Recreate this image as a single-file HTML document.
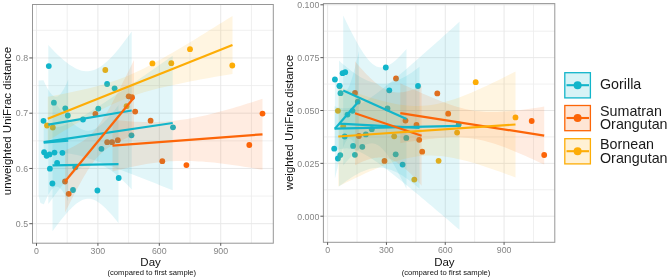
<!DOCTYPE html>
<html><head><meta charset="utf-8"><title>UniFrac distance over time</title>
<style>
html,body{margin:0;padding:0;background:#fff;}
body{width:669px;height:279px;overflow:hidden;}
svg{display:block;font-family:"Liberation Sans",sans-serif;will-change:transform;}
.gmaj{stroke:#e8e8e8;stroke-width:1;}
.gmin{stroke:#ececec;stroke-width:0.8;}
.pb{fill:none;stroke:#969696;stroke-width:1;}
.tick{stroke:#444;stroke-width:0.9;}
.tl{font-size:8.8px;fill:#858585;}
.at{font-size:11.5px;fill:#111;}
.sub{font-size:7.65px;fill:#111;}
.lg{font-size:14.3px;fill:#1a1a1a;}
</style></head>
<body>
<svg width="669" height="279" viewBox="0 0 669 279">
<defs>
<clipPath id="cl"><rect x="32.5" y="4.5" width="240.80" height="238.70"/></clipPath>
<clipPath id="cr"><rect x="323.4" y="3.6" width="231.40" height="238.70"/></clipPath>
</defs>
<rect width="669" height="279" fill="#fff"/>
<g><line x1="32.5" x2="273.3" y1="196.07" y2="196.07" class="gmin"/>
<line x1="32.5" x2="273.3" y1="140.82" y2="140.82" class="gmin"/>
<line x1="32.5" x2="273.3" y1="85.57" y2="85.57" class="gmin"/>
<line x1="32.5" x2="273.3" y1="30.32" y2="30.32" class="gmin"/>
<line y1="4.5" y2="243.2" x1="67.20" x2="67.20" class="gmin"/>
<line y1="4.5" y2="243.2" x1="128.62" x2="128.62" class="gmin"/>
<line y1="4.5" y2="243.2" x1="190.03" x2="190.03" class="gmin"/>
<line y1="4.5" y2="243.2" x1="251.44" x2="251.44" class="gmin"/>
<line x1="32.5" x2="273.3" y1="223.70" y2="223.70" class="gmaj"/>
<line x1="32.5" x2="273.3" y1="168.45" y2="168.45" class="gmaj"/>
<line x1="32.5" x2="273.3" y1="113.20" y2="113.20" class="gmaj"/>
<line x1="32.5" x2="273.3" y1="57.95" y2="57.95" class="gmaj"/>
<line y1="4.5" y2="243.2" x1="36.50" x2="36.50" class="gmaj"/>
<line y1="4.5" y2="243.2" x1="97.91" x2="97.91" class="gmaj"/>
<line y1="4.5" y2="243.2" x1="159.32" x2="159.32" class="gmaj"/>
<line y1="4.5" y2="243.2" x1="220.73" x2="220.73" class="gmaj"/></g>
<g><line x1="323.4" x2="554.8" y1="189.77" y2="189.77" class="gmin"/>
<line x1="323.4" x2="554.8" y1="136.93" y2="136.93" class="gmin"/>
<line x1="323.4" x2="554.8" y1="84.07" y2="84.07" class="gmin"/>
<line x1="323.4" x2="554.8" y1="31.22" y2="31.22" class="gmin"/>
<line y1="3.6" y2="242.3" x1="357.02" x2="357.02" class="gmin"/>
<line y1="3.6" y2="242.3" x1="415.85" x2="415.85" class="gmin"/>
<line y1="3.6" y2="242.3" x1="474.68" x2="474.68" class="gmin"/>
<line y1="3.6" y2="242.3" x1="533.50" x2="533.50" class="gmin"/>
<line x1="323.4" x2="554.8" y1="216.20" y2="216.20" class="gmaj"/>
<line x1="323.4" x2="554.8" y1="163.35" y2="163.35" class="gmaj"/>
<line x1="323.4" x2="554.8" y1="110.50" y2="110.50" class="gmaj"/>
<line x1="323.4" x2="554.8" y1="57.65" y2="57.65" class="gmaj"/>
<line x1="323.4" x2="554.8" y1="4.80" y2="4.80" class="gmaj"/>
<line y1="3.6" y2="242.3" x1="327.60" x2="327.60" class="gmaj"/>
<line y1="3.6" y2="242.3" x1="386.43" x2="386.43" class="gmaj"/>
<line y1="3.6" y2="242.3" x1="445.26" x2="445.26" class="gmaj"/>
<line y1="3.6" y2="242.3" x1="504.09" x2="504.09" class="gmaj"/></g>
<g clip-path="url(#cl)"><circle cx="48.8" cy="66.1" r="2.9" fill="#12b5ca"/>
<circle cx="107.1" cy="84.0" r="2.9" fill="#12b5ca"/>
<circle cx="114.6" cy="88.3" r="2.9" fill="#12b5ca"/>
<circle cx="53.9" cy="102.7" r="2.9" fill="#12b5ca"/>
<circle cx="65.3" cy="108.3" r="2.9" fill="#12b5ca"/>
<circle cx="98.3" cy="108.6" r="2.9" fill="#12b5ca"/>
<circle cx="67.8" cy="115.5" r="2.9" fill="#12b5ca"/>
<circle cx="43.5" cy="120.8" r="2.9" fill="#12b5ca"/>
<circle cx="173" cy="127.3" r="2.9" fill="#12b5ca"/>
<circle cx="131.5" cy="135.3" r="2.9" fill="#12b5ca"/>
<circle cx="44.1" cy="152.2" r="2.9" fill="#12b5ca"/>
<circle cx="46.6" cy="155.8" r="2.9" fill="#12b5ca"/>
<circle cx="49.5" cy="154.4" r="2.9" fill="#12b5ca"/>
<circle cx="54.5" cy="152.6" r="2.9" fill="#12b5ca"/>
<circle cx="62.4" cy="152.8" r="2.9" fill="#12b5ca"/>
<circle cx="57.1" cy="163" r="2.9" fill="#12b5ca"/>
<circle cx="49.9" cy="168.7" r="2.9" fill="#12b5ca"/>
<circle cx="75.3" cy="167.2" r="2.9" fill="#12b5ca"/>
<circle cx="83" cy="119.5" r="2.9" fill="#12b5ca"/>
<circle cx="52.4" cy="183.5" r="2.9" fill="#12b5ca"/>
<circle cx="73" cy="190" r="2.9" fill="#12b5ca"/>
<circle cx="97.4" cy="190.5" r="2.9" fill="#12b5ca"/>
<circle cx="118.7" cy="178" r="2.9" fill="#12b5ca"/>
<circle cx="101.4" cy="148.8" r="2.9" fill="#12b5ca"/>
<circle cx="262.5" cy="113.6" r="2.9" fill="#fc6508"/>
<circle cx="249.3" cy="145" r="2.9" fill="#fc6508"/>
<circle cx="135.2" cy="111.6" r="2.9" fill="#fc6508"/>
<circle cx="150.6" cy="120.7" r="2.9" fill="#fc6508"/>
<circle cx="162.3" cy="161.2" r="2.9" fill="#fc6508"/>
<circle cx="107.2" cy="142.2" r="2.9" fill="#fc6508"/>
<circle cx="112" cy="142.2" r="2.9" fill="#fc6508"/>
<circle cx="117.8" cy="140.2" r="2.9" fill="#fc6508"/>
<circle cx="128.7" cy="96.3" r="2.9" fill="#fc6508"/>
<circle cx="132" cy="97.2" r="2.9" fill="#fc6508"/>
<circle cx="95.4" cy="114" r="2.9" fill="#fc6508"/>
<circle cx="186.4" cy="165.1" r="2.9" fill="#fc6508"/>
<circle cx="65" cy="181.5" r="2.9" fill="#fc6508"/>
<circle cx="68.7" cy="193.8" r="2.9" fill="#fc6508"/>
<circle cx="105.3" cy="70" r="2.9" fill="#fdad06"/>
<circle cx="152.4" cy="63.4" r="2.9" fill="#fdad06"/>
<circle cx="171.3" cy="63.2" r="2.9" fill="#fdad06"/>
<circle cx="190" cy="49.2" r="2.9" fill="#fdad06"/>
<circle cx="232.3" cy="65.5" r="2.9" fill="#fdad06"/>
<circle cx="47" cy="125.5" r="2.9" fill="#fdad06"/>
<circle cx="52.8" cy="127.5" r="2.9" fill="#fdad06"/>
<circle cx="126.6" cy="106.2" r="2.9" fill="#fdad06"/>
<polygon points="38.6,80.5 43.7,80.2 43.7,204.2 40.5,203 38.6,196" fill="#12b5ca" fill-opacity="0.12"/>
<polygon points="48.30,45.10 50.38,47.33 52.47,49.51 54.55,51.63 56.64,53.69 58.72,55.69 60.81,57.62 62.89,59.46 64.98,61.21 67.06,62.86 69.15,64.40 71.23,65.82 73.32,67.11 75.41,68.24 77.49,69.22 79.57,70.02 81.66,70.64 83.75,71.06 85.83,71.27 87.91,71.27 90.00,71.05 92.08,70.61 94.17,69.95 96.25,69.07 98.34,67.98 100.42,66.70 102.51,65.22 104.59,63.58 106.68,61.76 108.76,59.80 110.85,57.70 112.93,55.48 115.02,53.14 117.10,50.71 119.19,48.17 121.27,45.56 123.36,42.87 125.44,40.11 127.53,37.30 129.61,34.42 131.70,31.50 131.70,189.50 129.61,187.28 127.53,185.11 125.44,183.00 123.36,180.95 121.27,178.96 119.19,177.06 117.10,175.23 115.02,173.50 112.93,171.86 110.85,170.35 108.76,168.95 106.68,167.70 104.59,166.59 102.51,165.65 100.42,164.88 98.34,164.30 96.25,163.92 94.17,163.74 92.08,163.79 90.00,164.05 87.91,164.54 85.83,165.24 83.75,166.16 81.66,167.28 79.57,168.60 77.49,170.11 75.41,171.79 73.32,173.63 71.23,175.62 69.15,177.75 67.06,179.99 64.98,182.35 62.89,184.81 60.81,187.35 58.72,189.98 56.64,192.69 54.55,195.46 52.47,198.28 50.38,201.17 48.30,204.10" fill="#12b5ca" fill-opacity="0.12"/>
<polygon points="43.70,127.80 46.93,128.03 50.15,128.04 53.38,127.82 56.60,127.35 59.83,126.63 63.05,125.67 66.28,124.49 69.50,123.13 72.72,121.62 75.95,119.98 79.18,118.23 82.40,116.40 85.62,114.50 88.85,112.55 92.08,110.55 95.30,108.51 98.53,106.45 101.75,104.35 104.97,102.24 108.20,100.10 111.42,97.95 114.65,95.79 117.88,93.61 121.10,91.43 124.33,89.23 127.55,87.03 130.78,84.82 134.00,82.60 137.23,80.38 140.45,78.16 143.68,75.92 146.90,73.69 150.12,71.45 153.35,69.21 156.57,66.96 159.80,64.71 163.03,62.46 166.25,60.21 169.48,57.96 172.70,55.70 172.70,190.30 169.48,189.00 166.25,187.71 163.03,186.42 159.80,185.13 156.57,183.84 153.35,182.55 150.12,181.27 146.90,179.99 143.68,178.72 140.45,177.44 137.23,176.18 134.00,174.92 130.78,173.66 127.55,172.41 124.33,171.17 121.10,169.93 117.88,168.71 114.65,167.49 111.42,166.29 108.20,165.10 104.97,163.92 101.75,162.77 98.53,161.63 95.30,160.53 92.08,159.45 88.85,158.41 85.62,157.42 82.40,156.48 79.18,155.61 75.95,154.82 72.72,154.14 69.50,153.59 66.28,153.19 63.05,152.97 59.83,152.97 56.60,153.21 53.38,153.70 50.15,154.44 46.93,155.41 43.70,156.60" fill="#12b5ca" fill-opacity="0.12"/>
<polygon points="43.70,80.70 44.31,82.07 44.93,83.40 45.54,84.69 46.15,85.93 46.76,87.12 47.38,88.26 47.99,89.34 48.60,90.37 49.21,91.33 49.83,92.22 50.44,93.04 51.05,93.79 51.66,94.45 52.28,95.04 52.89,95.54 53.50,95.95 54.11,96.26 54.73,96.49 55.34,96.61 55.95,96.64 56.56,96.58 57.18,96.41 57.79,96.15 58.40,95.79 59.01,95.34 59.62,94.80 60.24,94.17 60.85,93.46 61.46,92.66 62.08,91.79 62.69,90.84 63.30,89.82 63.91,88.74 64.53,87.59 65.14,86.39 65.75,85.13 66.36,83.81 66.97,82.45 67.59,81.05 68.20,79.60 68.20,201.60 67.59,200.26 66.97,198.96 66.36,197.70 65.75,196.49 65.14,195.34 64.53,194.24 63.91,193.20 63.30,192.22 62.69,191.30 62.08,190.46 61.46,189.69 60.85,189.00 60.24,188.39 59.62,187.87 59.01,187.43 58.40,187.09 57.79,186.83 57.18,186.68 56.56,186.62 55.95,186.66 55.34,186.79 54.73,187.02 54.11,187.35 53.50,187.77 52.89,188.29 52.28,188.89 51.66,189.58 51.05,190.35 50.44,191.20 49.83,192.13 49.21,193.13 48.60,194.19 47.99,195.32 47.38,196.51 46.76,197.75 46.15,199.05 45.54,200.40 44.93,201.79 44.31,203.22 43.70,204.70" fill="#12b5ca" fill-opacity="0.12"/>
<polygon points="52.50,99.30 54.15,101.50 55.80,103.68 57.45,105.82 59.10,107.92 60.75,109.98 62.40,111.99 64.05,113.95 65.70,115.84 67.35,117.68 69.00,119.43 70.65,121.11 72.30,122.69 73.95,124.16 75.60,125.52 77.25,126.75 78.90,127.84 80.55,128.77 82.20,129.53 83.85,130.11 85.50,130.49 87.15,130.69 88.80,130.68 90.45,130.47 92.10,130.06 93.75,129.46 95.40,128.68 97.05,127.73 98.70,126.61 100.35,125.36 102.00,123.97 103.65,122.46 105.30,120.84 106.95,119.13 108.60,117.33 110.25,115.46 111.90,113.51 113.55,111.51 115.20,109.45 116.85,107.35 118.50,105.20 118.50,223.20 116.85,221.11 115.20,219.06 113.55,217.05 111.90,215.11 110.25,213.22 108.60,211.40 106.95,209.66 105.30,208.00 103.65,206.44 102.00,204.98 100.35,203.65 98.70,202.45 97.05,201.39 95.40,200.49 93.75,199.76 92.10,199.22 90.45,198.87 88.80,198.71 87.15,198.76 85.50,199.01 83.85,199.45 82.20,200.08 80.55,200.90 78.90,201.88 77.25,203.02 75.60,204.31 73.95,205.72 72.30,207.25 70.65,208.89 69.00,210.62 67.35,212.43 65.70,214.32 64.05,216.27 62.40,218.28 60.75,220.35 59.10,222.46 57.45,224.62 55.80,226.81 54.15,229.04 52.50,231.30" fill="#12b5ca" fill-opacity="0.12"/>
<polygon points="65.00,150.50 66.72,149.74 68.45,148.95 70.17,148.14 71.90,147.31 73.62,146.44 75.35,145.54 77.08,144.60 78.80,143.61 80.53,142.56 82.25,141.44 83.97,140.25 85.70,138.97 87.42,137.59 89.15,136.09 90.88,134.46 92.60,132.69 94.33,130.77 96.05,128.69 97.78,126.46 99.50,124.07 101.22,121.54 102.95,118.87 104.67,116.09 106.40,113.20 108.12,110.22 109.85,107.15 111.58,104.02 113.30,100.83 115.03,97.58 116.75,94.30 118.47,90.97 120.20,87.62 121.92,84.23 123.65,80.82 125.38,77.39 127.10,73.94 128.82,70.48 130.55,67.00 132.28,63.50 134.00,60.00 134.00,135.00 132.28,135.70 130.55,136.40 128.82,137.12 127.10,137.86 125.38,138.61 123.65,139.38 121.92,140.17 120.20,140.98 118.47,141.83 116.75,142.70 115.03,143.62 113.30,144.57 111.58,145.58 109.85,146.65 108.12,147.78 106.40,149.00 104.67,150.31 102.95,151.73 101.22,153.26 99.50,154.93 97.78,156.74 96.05,158.71 94.33,160.83 92.60,163.11 90.88,165.54 89.15,168.11 87.42,170.81 85.70,173.63 83.97,176.55 82.25,179.56 80.53,182.64 78.80,185.79 77.08,189.00 75.35,192.26 73.62,195.56 71.90,198.89 70.17,202.26 68.45,205.65 66.72,209.06 65.00,212.50" fill="#fc6508" fill-opacity="0.12"/>
<polygon points="112.50,119.60 116.25,120.04 120.00,120.44 123.75,120.81 127.50,121.14 131.25,121.42 135.00,121.67 138.75,121.86 142.50,122.01 146.25,122.10 150.00,122.13 153.75,122.10 157.50,122.01 161.25,121.86 165.00,121.64 168.75,121.35 172.50,121.00 176.25,120.59 180.00,120.11 183.75,119.57 187.50,118.96 191.25,118.31 195.00,117.59 198.75,116.83 202.50,116.02 206.25,115.16 210.00,114.26 213.75,113.33 217.50,112.36 221.25,111.35 225.00,110.32 228.75,109.26 232.50,108.18 236.25,107.07 240.00,105.94 243.75,104.79 247.50,103.62 251.25,102.44 255.00,101.24 258.75,100.03 262.50,98.80 262.50,169.80 258.75,169.14 255.00,168.49 251.25,167.86 247.50,167.24 243.75,166.64 240.00,166.05 236.25,165.49 232.50,164.94 228.75,164.42 225.00,163.93 221.25,163.46 217.50,163.02 213.75,162.62 210.00,162.25 206.25,161.91 202.50,161.62 198.75,161.38 195.00,161.18 191.25,161.03 187.50,160.94 183.75,160.90 180.00,160.92 176.25,161.01 172.50,161.16 168.75,161.37 165.00,161.65 161.25,162.00 157.50,162.41 153.75,162.88 150.00,163.42 146.25,164.02 142.50,164.67 138.75,165.38 135.00,166.14 131.25,166.95 127.50,167.80 123.75,168.70 120.00,169.63 116.25,170.60 112.50,171.60" fill="#fc6508" fill-opacity="0.12"/>
<polygon points="47.80,96.80 52.42,95.94 57.03,95.06 61.65,94.16 66.27,93.24 70.89,92.29 75.50,91.31 80.12,90.30 84.74,89.24 89.36,88.13 93.97,86.97 98.59,85.73 103.21,84.43 107.83,83.03 112.44,81.54 117.06,79.93 121.68,78.22 126.30,76.38 130.91,74.43 135.53,72.36 140.15,70.18 144.77,67.90 149.38,65.54 154.00,63.09 158.62,60.57 163.24,58.00 167.85,55.37 172.47,52.70 177.09,49.99 181.71,47.25 186.32,44.48 190.94,41.69 195.56,38.88 200.18,36.05 204.79,33.20 209.41,30.34 214.03,27.47 218.65,24.59 223.26,21.70 227.88,18.81 232.50,15.90 232.50,73.90 227.88,74.69 223.26,75.49 218.65,76.29 214.03,77.11 209.41,77.93 204.79,78.77 200.18,79.62 195.56,80.48 190.94,81.37 186.32,82.27 181.71,83.20 177.09,84.15 172.47,85.14 167.85,86.16 163.24,87.23 158.62,88.35 154.00,89.53 149.38,90.77 144.77,92.10 140.15,93.52 135.53,95.03 130.91,96.66 126.30,98.40 121.68,100.26 117.06,102.24 112.44,104.33 107.83,106.54 103.21,108.83 98.59,111.22 93.97,113.68 89.36,116.21 84.74,118.80 80.12,121.44 75.50,124.12 70.89,126.84 66.27,129.58 61.65,132.35 57.03,135.15 52.42,137.97 47.80,140.80" fill="#fdad06" fill-opacity="0.12"/>
<line x1="48.3" y1="124.6" x2="131.7" y2="110.5" stroke="#12b5ca" stroke-width="2.2"/>
<line x1="43.7" y1="142.2" x2="172.7" y2="123.0" stroke="#12b5ca" stroke-width="2.2"/>
<line x1="43.7" y1="142.7" x2="68.2" y2="140.6" stroke="#12b5ca" stroke-width="2.2"/>
<line x1="52.5" y1="165.3" x2="118.5" y2="164.2" stroke="#12b5ca" stroke-width="2.2"/>
<line x1="65.0" y1="181.5" x2="134.0" y2="97.5" stroke="#fc6508" stroke-width="2.2"/>
<line x1="112.5" y1="145.6" x2="262.5" y2="134.3" stroke="#fc6508" stroke-width="2.2"/>
<line x1="47.8" y1="118.8" x2="232.5" y2="44.9" stroke="#fdad06" stroke-width="2.2"/></g>
<g clip-path="url(#cr)"><circle cx="339.6" cy="86" r="2.9" fill="#12b5ca"/>
<circle cx="340.5" cy="93.2" r="2.9" fill="#12b5ca"/>
<circle cx="342.6" cy="73.2" r="2.9" fill="#12b5ca"/>
<circle cx="345.2" cy="72.2" r="2.9" fill="#12b5ca"/>
<circle cx="334.9" cy="79.5" r="2.9" fill="#12b5ca"/>
<circle cx="339.5" cy="85.8" r="2.9" fill="#12b5ca"/>
<circle cx="385.8" cy="67.5" r="2.9" fill="#12b5ca"/>
<circle cx="389.3" cy="90.3" r="2.9" fill="#12b5ca"/>
<circle cx="357.8" cy="101.7" r="2.9" fill="#12b5ca"/>
<circle cx="352.5" cy="110.8" r="2.9" fill="#12b5ca"/>
<circle cx="347.5" cy="114.6" r="2.9" fill="#12b5ca"/>
<circle cx="387.5" cy="108.4" r="2.9" fill="#12b5ca"/>
<circle cx="344.7" cy="136.5" r="2.9" fill="#12b5ca"/>
<circle cx="365.8" cy="134.4" r="2.9" fill="#12b5ca"/>
<circle cx="371.8" cy="129.2" r="2.9" fill="#12b5ca"/>
<circle cx="334.2" cy="148.7" r="2.9" fill="#12b5ca"/>
<circle cx="353.1" cy="145.9" r="2.9" fill="#12b5ca"/>
<circle cx="362.3" cy="146.8" r="2.9" fill="#12b5ca"/>
<circle cx="337.9" cy="158.5" r="2.9" fill="#12b5ca"/>
<circle cx="340.3" cy="155.1" r="2.9" fill="#12b5ca"/>
<circle cx="354.9" cy="154.8" r="2.9" fill="#12b5ca"/>
<circle cx="395.7" cy="154.3" r="2.9" fill="#12b5ca"/>
<circle cx="402.6" cy="164.6" r="2.9" fill="#12b5ca"/>
<circle cx="406.3" cy="137.9" r="2.9" fill="#12b5ca"/>
<circle cx="458.7" cy="124.5" r="2.9" fill="#12b5ca"/>
<circle cx="418" cy="86" r="2.9" fill="#12b5ca"/>
<circle cx="396" cy="78.5" r="2.9" fill="#fc6508"/>
<circle cx="355" cy="93" r="2.9" fill="#fc6508"/>
<circle cx="358.9" cy="136" r="2.9" fill="#fc6508"/>
<circle cx="384.5" cy="160.9" r="2.9" fill="#fc6508"/>
<circle cx="405.5" cy="120.6" r="2.9" fill="#fc6508"/>
<circle cx="416.5" cy="125" r="2.9" fill="#fc6508"/>
<circle cx="419.2" cy="139.8" r="2.9" fill="#fc6508"/>
<circle cx="422.2" cy="151.7" r="2.9" fill="#fc6508"/>
<circle cx="437.3" cy="93.4" r="2.9" fill="#fc6508"/>
<circle cx="448.2" cy="113.7" r="2.9" fill="#fc6508"/>
<circle cx="531.7" cy="121" r="2.9" fill="#fc6508"/>
<circle cx="544.2" cy="155" r="2.9" fill="#fc6508"/>
<circle cx="337.9" cy="110.8" r="2.9" fill="#fdad06"/>
<circle cx="343.2" cy="126.2" r="2.9" fill="#fdad06"/>
<circle cx="394.2" cy="136.3" r="2.9" fill="#fdad06"/>
<circle cx="414.3" cy="179.6" r="2.9" fill="#fdad06"/>
<circle cx="438.6" cy="160.8" r="2.9" fill="#fdad06"/>
<circle cx="457.1" cy="132.6" r="2.9" fill="#fdad06"/>
<circle cx="475.7" cy="82.2" r="2.9" fill="#fdad06"/>
<circle cx="515.5" cy="117.4" r="2.9" fill="#fdad06"/>
<polygon points="343.20,15.40 344.78,18.71 346.37,21.98 347.95,25.20 349.53,28.39 351.11,31.51 352.69,34.59 354.28,37.59 355.86,40.52 357.44,43.37 359.02,46.13 360.61,48.78 362.19,51.31 363.77,53.72 365.36,55.97 366.94,58.07 368.52,59.99 370.10,61.71 371.69,63.23 373.27,64.52 374.85,65.59 376.43,66.41 378.01,67.00 379.60,67.36 381.18,67.48 382.76,67.38 384.34,67.07 385.93,66.58 387.51,65.90 389.09,65.06 390.68,64.08 392.26,62.97 393.84,61.74 395.42,60.41 397.00,58.99 398.59,57.48 400.17,55.90 401.75,54.26 403.33,52.55 404.92,50.80 406.50,49.00 406.50,189.00 404.92,185.77 403.33,182.59 401.75,179.45 400.17,176.38 398.59,173.37 397.00,170.43 395.42,167.58 393.84,164.82 392.26,162.16 390.68,159.62 389.09,157.21 387.51,154.94 385.93,152.83 384.34,150.91 382.76,149.17 381.18,147.64 379.60,146.33 378.01,145.26 376.43,144.42 374.85,143.81 373.27,143.45 371.69,143.31 370.10,143.40 368.52,143.69 366.94,144.18 365.36,144.85 363.77,145.67 362.19,146.65 360.61,147.75 359.02,148.97 357.44,150.30 355.86,151.72 354.28,153.22 352.69,154.79 351.11,156.44 349.53,158.13 347.95,159.89 346.37,161.68 344.78,163.52 343.20,165.40" fill="#12b5ca" fill-opacity="0.12"/>
<polygon points="334.90,78.80 335.50,79.97 336.10,81.11 336.71,82.22 337.31,83.30 337.91,84.34 338.51,85.34 339.12,86.29 339.72,87.18 340.32,88.02 340.92,88.78 341.53,89.46 342.13,90.05 342.73,90.53 343.33,90.90 343.94,91.13 344.54,91.22 345.14,91.16 345.75,90.92 346.35,90.50 346.95,89.90 347.55,89.11 348.15,88.14 348.76,86.99 349.36,85.66 349.96,84.18 350.56,82.56 351.17,80.80 351.77,78.93 352.37,76.95 352.98,74.88 353.58,72.73 354.18,70.50 354.78,68.22 355.38,65.88 355.99,63.49 356.59,61.06 357.19,58.59 357.80,56.09 358.40,53.56 359.00,51.00 359.00,151.00 358.40,149.83 357.80,148.69 357.19,147.58 356.59,146.50 355.99,145.46 355.38,144.46 354.78,143.51 354.18,142.62 353.58,141.78 352.98,141.02 352.37,140.34 351.77,139.75 351.17,139.27 350.56,138.90 349.96,138.67 349.36,138.58 348.76,138.64 348.15,138.88 347.55,139.30 346.95,139.90 346.35,140.69 345.75,141.66 345.14,142.81 344.54,144.14 343.94,145.62 343.33,147.24 342.73,149.00 342.13,150.87 341.53,152.85 340.92,154.92 340.32,157.07 339.72,159.30 339.12,161.58 338.51,163.92 337.91,166.31 337.31,168.74 336.71,171.21 336.10,173.71 335.50,176.24 334.90,178.80" fill="#12b5ca" fill-opacity="0.12"/>
<polygon points="334.50,106.30 337.62,107.32 340.75,108.01 343.88,108.34 347.00,108.28 350.12,107.83 353.25,107.02 356.38,105.87 359.50,104.44 362.62,102.78 365.75,100.91 368.88,98.89 372.00,96.74 375.12,94.48 378.25,92.14 381.38,89.72 384.50,87.25 387.62,84.73 390.75,82.17 393.88,79.57 397.00,76.95 400.12,74.30 403.25,71.63 406.38,68.94 409.50,66.24 412.62,63.52 415.75,60.79 418.88,58.05 422.00,55.30 425.12,52.54 428.25,49.77 431.38,46.99 434.50,44.21 437.62,41.43 440.75,38.64 443.88,35.84 447.00,33.04 450.12,30.23 453.25,27.43 456.38,24.61 459.50,21.80 459.50,229.80 456.38,227.13 453.25,224.45 450.12,221.79 447.00,219.12 443.88,216.46 440.75,213.80 437.62,211.15 434.50,208.51 431.38,205.87 428.25,203.23 425.12,200.60 422.00,197.98 418.88,195.37 415.75,192.77 412.62,190.18 409.50,187.60 406.38,185.04 403.25,182.49 400.12,179.96 397.00,177.45 393.88,174.97 390.75,172.51 387.62,170.09 384.50,167.71 381.38,165.38 378.25,163.10 375.12,160.90 372.00,158.78 368.88,156.77 365.75,154.89 362.62,153.16 359.50,151.64 356.38,150.35 353.25,149.34 350.12,148.67 347.00,148.36 343.88,148.44 340.75,148.91 337.62,149.74 334.50,150.90" fill="#12b5ca" fill-opacity="0.12"/>
<polygon points="339.00,60.60 341.01,62.39 343.02,64.13 345.04,65.83 347.05,67.49 349.06,69.09 351.07,70.64 353.09,72.13 355.10,73.56 357.11,74.92 359.12,76.20 361.14,77.40 363.15,78.51 365.16,79.53 367.18,80.46 369.19,81.28 371.20,81.99 373.21,82.59 375.23,83.07 377.24,83.44 379.25,83.68 381.26,83.79 383.27,83.79 385.29,83.66 387.30,83.41 389.31,83.04 391.32,82.56 393.34,81.97 395.35,81.28 397.36,80.48 399.38,79.59 401.39,78.62 403.40,77.56 405.41,76.43 407.43,75.23 409.44,73.96 411.45,72.63 413.46,71.25 415.48,69.81 417.49,68.33 419.50,66.80 419.50,188.80 417.49,187.06 415.48,185.37 413.46,183.72 411.45,182.13 409.44,180.59 407.43,179.11 405.41,177.70 403.40,176.36 401.39,175.09 399.38,173.91 397.36,172.81 395.35,171.80 393.34,170.90 391.32,170.10 389.31,169.41 387.30,168.83 385.29,168.37 383.27,168.03 381.26,167.82 379.25,167.72 377.24,167.75 375.23,167.91 373.21,168.18 371.20,168.57 369.19,169.07 367.18,169.68 365.16,170.40 363.15,171.21 361.14,172.11 359.12,173.10 357.11,174.17 355.10,175.32 353.09,176.54 351.07,177.82 349.06,179.16 347.05,180.55 345.04,182.00 343.02,183.49 341.01,185.02 339.00,186.60" fill="#12b5ca" fill-opacity="0.12"/>
<polygon points="355.00,61.30 356.67,63.28 358.33,65.24 360.00,67.16 361.66,69.03 363.32,70.87 364.99,72.67 366.66,74.41 368.32,76.10 369.99,77.73 371.65,79.30 373.31,80.81 374.98,82.24 376.64,83.59 378.31,84.87 379.98,86.05 381.64,87.14 383.31,88.14 384.97,89.04 386.63,89.83 388.30,90.52 389.97,91.11 391.63,91.59 393.30,91.96 394.96,92.23 396.62,92.40 398.29,92.47 399.96,92.45 401.62,92.33 403.29,92.14 404.95,91.86 406.62,91.51 408.28,91.09 409.94,90.61 411.61,90.07 413.28,89.47 414.94,88.82 416.61,88.13 418.27,87.39 419.94,86.61 421.60,85.80 421.60,185.80 419.94,183.86 418.27,181.96 416.61,180.10 414.94,178.28 413.28,176.50 411.61,174.78 409.94,173.11 408.28,171.51 406.62,169.96 404.95,168.49 403.29,167.09 401.62,165.77 399.96,164.53 398.29,163.38 396.62,162.33 394.96,161.37 393.30,160.52 391.63,159.76 389.97,159.12 388.30,158.58 386.63,158.14 384.97,157.81 383.31,157.58 381.64,157.46 379.98,157.42 378.31,157.48 376.64,157.63 374.98,157.86 373.31,158.17 371.65,158.55 369.99,158.99 368.32,159.50 366.66,160.07 364.99,160.68 363.32,161.35 361.66,162.07 360.00,162.82 358.33,163.61 356.67,164.44 355.00,165.30" fill="#fc6508" fill-opacity="0.12"/>
<polygon points="400.30,83.20 403.90,84.90 407.50,86.59 411.09,88.26 414.69,89.92 418.29,91.55 421.88,93.17 425.48,94.75 429.08,96.31 432.68,97.83 436.28,99.32 439.87,100.76 443.47,102.14 447.07,103.47 450.67,104.74 454.26,105.92 457.86,107.02 461.46,108.03 465.06,108.93 468.65,109.72 472.25,110.39 475.85,110.94 479.45,111.37 483.04,111.69 486.64,111.90 490.24,112.00 493.84,112.01 497.43,111.93 501.03,111.78 504.63,111.56 508.23,111.29 511.82,110.96 515.42,110.59 519.02,110.19 522.62,109.75 526.21,109.28 529.81,108.78 533.41,108.26 537.01,107.72 540.60,107.17 544.20,106.60 544.20,164.60 540.60,162.91 537.01,161.24 533.41,159.58 529.81,157.94 526.21,156.32 522.62,154.73 519.02,153.17 515.42,151.65 511.82,150.16 508.23,148.71 504.63,147.32 501.03,145.98 497.43,144.71 493.84,143.51 490.24,142.40 486.64,141.38 483.04,140.47 479.45,139.67 475.85,138.98 472.25,138.41 468.65,137.96 465.06,137.63 461.46,137.41 457.86,137.30 454.26,137.28 450.67,137.34 447.07,137.49 443.47,137.70 439.87,137.96 436.28,138.28 432.68,138.65 429.08,139.05 425.48,139.49 421.88,139.95 418.29,140.45 414.69,140.96 411.09,141.50 407.50,142.05 403.90,142.62 400.30,143.20" fill="#fc6508" fill-opacity="0.12"/>
<polygon points="338.30,86.50 342.73,88.14 347.16,89.74 351.59,91.32 356.02,92.86 360.45,94.36 364.88,95.81 369.31,97.20 373.74,98.54 378.17,99.80 382.60,100.98 387.03,102.07 391.46,103.06 395.89,103.93 400.32,104.66 404.75,105.24 409.18,105.66 413.61,105.90 418.04,105.95 422.47,105.79 426.90,105.44 431.33,104.89 435.76,104.14 440.19,103.20 444.62,102.10 449.05,100.84 453.48,99.43 457.91,97.90 462.34,96.26 466.77,94.52 471.20,92.69 475.63,90.79 480.06,88.82 484.49,86.79 488.92,84.72 493.35,82.60 497.78,80.44 502.21,78.25 506.64,76.02 511.07,73.77 515.50,71.50 515.50,177.50 511.07,175.83 506.64,174.18 502.21,172.55 497.78,170.96 493.35,169.40 488.92,167.88 484.49,166.41 480.06,164.98 475.63,163.61 471.20,162.31 466.77,161.08 462.34,159.94 457.91,158.90 453.48,157.97 449.05,157.16 444.62,156.50 440.19,156.00 435.76,155.66 431.33,155.51 426.90,155.56 422.47,155.81 418.04,156.25 413.61,156.90 409.18,157.74 404.75,158.76 400.32,159.94 395.89,161.27 391.46,162.74 387.03,164.33 382.60,166.02 378.17,167.80 373.74,169.66 369.31,171.60 364.88,173.59 360.45,175.64 356.02,177.74 351.59,179.88 347.16,182.06 342.73,184.26 338.30,186.50" fill="#fdad06" fill-opacity="0.12"/>
<line x1="343.2" y1="90.4" x2="406.5" y2="119.0" stroke="#12b5ca" stroke-width="2.2"/>
<line x1="334.9" y1="128.8" x2="359.0" y2="101.0" stroke="#12b5ca" stroke-width="2.2"/>
<line x1="334.5" y1="128.6" x2="459.5" y2="125.8" stroke="#12b5ca" stroke-width="2.2"/>
<line x1="339.0" y1="123.6" x2="419.5" y2="127.8" stroke="#12b5ca" stroke-width="2.2"/>
<line x1="355.0" y1="113.3" x2="421.6" y2="135.8" stroke="#fc6508" stroke-width="2.2"/>
<line x1="400.3" y1="113.2" x2="544.2" y2="135.6" stroke="#fc6508" stroke-width="2.2"/>
<line x1="338.3" y1="136.5" x2="515.5" y2="124.5" stroke="#fdad06" stroke-width="2.2"/></g>
<rect x="32.5" y="4.5" width="240.80" height="238.70" class="pb"/>
<rect x="323.4" y="3.6" width="231.40" height="238.70" class="pb"/>
<line x1="29.3" x2="32.5" y1="223.70" y2="223.70" class="tick"/>
<text x="28.1" y="226.90" class="tl" text-anchor="end">0.5</text>
<line x1="29.3" x2="32.5" y1="168.45" y2="168.45" class="tick"/>
<text x="28.1" y="171.65" class="tl" text-anchor="end">0.6</text>
<line x1="29.3" x2="32.5" y1="113.20" y2="113.20" class="tick"/>
<text x="28.1" y="116.40" class="tl" text-anchor="end">0.7</text>
<line x1="29.3" x2="32.5" y1="57.95" y2="57.95" class="tick"/>
<text x="28.1" y="61.15" class="tl" text-anchor="end">0.8</text>
<line x1="36.50" x2="36.50" y1="243.2" y2="245.79999999999998" class="tick"/>
<text x="36.50" y="254" class="tl" text-anchor="middle">0</text>
<line x1="97.91" x2="97.91" y1="243.2" y2="245.79999999999998" class="tick"/>
<text x="97.91" y="254" class="tl" text-anchor="middle">300</text>
<line x1="159.32" x2="159.32" y1="243.2" y2="245.79999999999998" class="tick"/>
<text x="159.32" y="254" class="tl" text-anchor="middle">600</text>
<line x1="220.73" x2="220.73" y1="243.2" y2="245.79999999999998" class="tick"/>
<text x="220.73" y="254" class="tl" text-anchor="middle">900</text>
<line x1="320.4" x2="323.4" y1="216.20" y2="216.20" class="tick"/>
<text x="319.3" y="219.50" class="tl" text-anchor="end">0.000</text>
<line x1="320.4" x2="323.4" y1="163.35" y2="163.35" class="tick"/>
<text x="319.3" y="166.65" class="tl" text-anchor="end">0.025</text>
<line x1="320.4" x2="323.4" y1="110.50" y2="110.50" class="tick"/>
<text x="319.3" y="113.80" class="tl" text-anchor="end">0.050</text>
<line x1="320.4" x2="323.4" y1="57.65" y2="57.65" class="tick"/>
<text x="319.3" y="60.95" class="tl" text-anchor="end">0.075</text>
<line x1="320.4" x2="323.4" y1="4.80" y2="4.80" class="tick"/>
<text x="319.3" y="8.10" class="tl" text-anchor="end">0.100</text>
<line x1="327.60" x2="327.60" y1="242.3" y2="244.9" class="tick"/>
<text x="327.60" y="252.8" class="tl" text-anchor="middle">0</text>
<line x1="386.43" x2="386.43" y1="242.3" y2="244.9" class="tick"/>
<text x="386.43" y="252.8" class="tl" text-anchor="middle">300</text>
<line x1="445.26" x2="445.26" y1="242.3" y2="244.9" class="tick"/>
<text x="445.26" y="252.8" class="tl" text-anchor="middle">600</text>
<line x1="504.09" x2="504.09" y1="242.3" y2="244.9" class="tick"/>
<text x="504.09" y="252.8" class="tl" text-anchor="middle">900</text>
<text x="150.6" y="265.7" class="at" text-anchor="middle">Day</text>
<text x="151.8" y="274.8" class="sub" text-anchor="middle">(compared to first sample)</text>
<text x="444.4" y="265.9" class="at" text-anchor="middle">Day</text>
<text x="446" y="274.9" class="sub" text-anchor="middle">(compared to first sample)</text>
<text transform="translate(11.3,121) rotate(-90)" class="at" text-anchor="middle">unweighted UniFrac distance</text>
<text transform="translate(293.2,122.6) rotate(-90)" class="at" text-anchor="middle">weighted UniFrac distance</text>
<rect x="564.8" y="72.7" width="25.6" height="25.2" fill="#12b5ca" fill-opacity="0.17" stroke="#12b5ca" stroke-width="1.3"/>
<line x1="566.5" x2="589" y1="85.2" y2="85.2" stroke="#12b5ca" stroke-width="2.1"/>
<circle cx="577.6" cy="85.2" r="4" fill="#12b5ca"/>
<text x="600" y="88.9" class="lg">Gorilla</text>
<rect x="564.8" y="105.5" width="25.6" height="25.2" fill="#fc6508" fill-opacity="0.17" stroke="#fc6508" stroke-width="1.3"/>
<line x1="566.5" x2="589" y1="118.0" y2="118.0" stroke="#fc6508" stroke-width="2.1"/>
<circle cx="577.6" cy="118.0" r="4" fill="#fc6508"/>
<text x="600" y="115.6" class="lg">Sumatran</text>
<text x="600" y="129.4" class="lg">Orangutan</text>
<rect x="564.8" y="138.7" width="25.6" height="25.2" fill="#fdad06" fill-opacity="0.17" stroke="#fdad06" stroke-width="1.3"/>
<line x1="566.5" x2="589" y1="151.2" y2="151.2" stroke="#fdad06" stroke-width="2.1"/>
<circle cx="577.6" cy="151.2" r="4" fill="#fdad06"/>
<text x="600" y="148.8" class="lg">Bornean</text>
<text x="600" y="162.6" class="lg">Orangutan</text>
</svg>
</body></html>
